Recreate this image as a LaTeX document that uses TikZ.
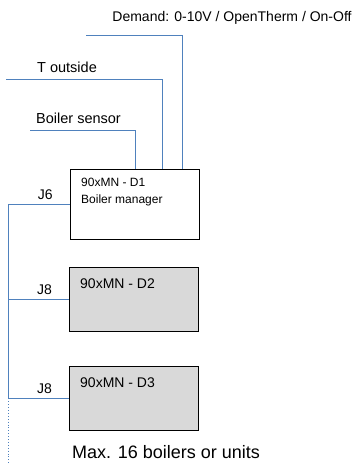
\documentclass[tikz,border=0pt]{standalone}
\usepackage{fontspec}
\setmainfont{Liberation Sans}
\usetikzlibrary{positioning}
\definecolor{wireblue}{RGB}{79,129,189}
\definecolor{unitgray}{RGB}{217,217,217}

\begin{document}
\begin{tikzpicture}[x=1pt, y=-1pt,
    every node/.style={inner sep=0pt, font=\fontsize{14}{16}\selectfont},
    wire/.style={wireblue, line width=0.9pt},
    portlbl/.style={text=black, above=4pt, pos=0.4},
    unitbox/.style={draw=black, line width=0.9pt, rectangle, minimum width=129pt, anchor=north west}]
  % Frame
  \useasboundingbox (0,0) rectangle (353,463);
  % Controller and slave units
  \node[unitbox, fill=white, minimum height=70pt] (d1) at (70,169) {};
  \node[unitbox, fill=unitgray, minimum height=64pt] (d2) at (69,267) {};
  \node[unitbox, fill=unitgray, minimum height=64pt] (d3) at (69,366) {};
  \node[anchor=north west, align=left, font=\fontsize{12}{17.5}\selectfont]
    (d1txt) at (81,177.5) {90xMN - D1\\Boiler manager};
  \node[anchor=base west] (d2txt) at (80,288) {90xMN - D2};
  \node[anchor=base west] (d3txt) at (80,387) {90xMN - D3};
  % Inputs
  \node[anchor=base] (demtxt) at (232,21) {Demand: 0-10V / OpenTherm / On-Off};
  \node[anchor=base west, font=\fontsize{14.5}{16}\selectfont] (outtxt) at (37,72) {T outside};
  \node[anchor=base west, font=\fontsize{14.5}{16}\selectfont] (senstxt) at (36,123) {Boiler sensor};
  \coordinate (dem) at (86,35);
  \coordinate (out) at (6,79);
  \coordinate (sens) at (30,130);
  \draw[wire] (dem) -| ([xshift=112pt]d1.north west);
  \draw[wire] (out) -| ([xshift=92pt]d1.north west);
  \draw[wire] (sens) -| ([xshift=65pt]d1.north west);
  % Bus
  \coordinate (bus) at (8,0);
  \coordinate (busend) at (8,463);
  \draw[wire] (d1.west) -- node[portlbl] (j6) {J6} (d1.west -| bus)
    -- (d3.west -| bus);
  \draw[wire] (d2.west) -- node[portlbl] (j8a) {J8} (d2.west -| bus);
  \draw[wire] (d3.west) -- node[portlbl] (j8b) {J8} (d3.west -| bus);
  \draw[wire, dotted] (d3.west -| bus) -- (busend);
  % Caption
  \node[anchor=base west, font=\fontsize{18}{20}\selectfont] (maxtxt) at (72,458) {Max. 16 boilers or units};
\end{tikzpicture}
\end{document}
